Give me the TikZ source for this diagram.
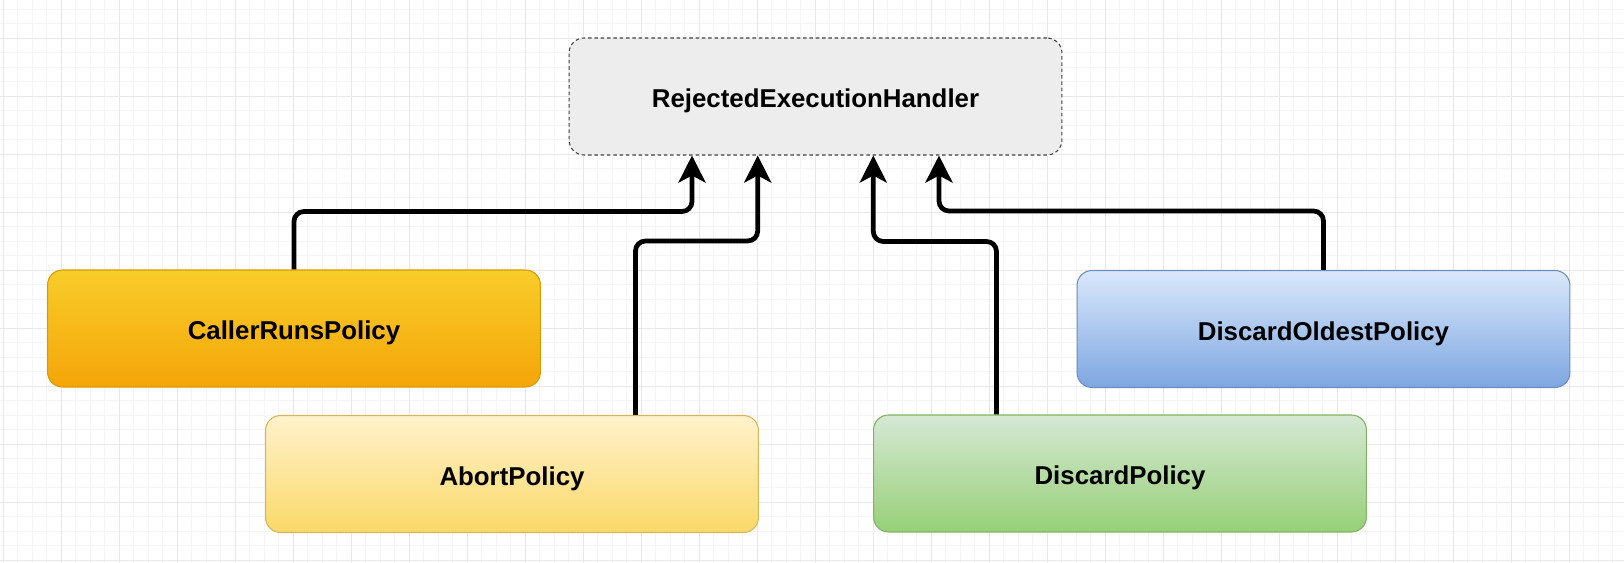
\documentclass[tikz,border=0pt]{standalone}
\usepackage{fontspec}
\setmainfont{Liberation Sans}
\usepackage{tikz}
\usetikzlibrary{arrows.meta,positioning,calc}

\definecolor{gridmajor}{RGB}{232,232,232}
\definecolor{gridminor}{RGB}{245,245,245}

\begin{document}
\begin{tikzpicture}[
  x=0.02cm, y=-0.02cm,
  box/.style={draw, rounded corners=0.3cm, line width=0.6pt, minimum width=9.86cm, minimum height=2.34cm, text height=0.46cm, text depth=0pt, font=\fontsize{14.7}{17}\selectfont\bfseries},
  handler/.style={box, draw=black!75, fill=black!7, dash pattern=on 2pt off 1.6pt},
  caller/.style={box, draw={rgb,255:red,215;green,155;blue,0}, top color={rgb,255:red,248;green,205;blue,42}, bottom color={rgb,255:red,245;green,165;blue,8}},
  abort/.style={box, draw={rgb,255:red,214;green,182;blue,86}, top color={rgb,255:red,255;green,242;blue,204}, bottom color={rgb,255:red,250;green,217;blue,104}},
  discard/.style={box, draw={rgb,255:red,130;green,179;blue,102}, top color={rgb,255:red,213;green,232;blue,212}, bottom color={rgb,255:red,151;green,208;blue,119}},
  oldest/.style={box, draw={rgb,255:red,108;green,142;blue,191}, top color={rgb,255:red,218;green,232;blue,252}, bottom color={rgb,255:red,126;green,166;blue,224}},
  arrow/.style={-{Stealth[length=0.54cm, width=0.54cm, inset=0.14cm]}, line width=0.095cm, rounded corners=0.2cm},
]
  \useasboundingbox (0,0) rectangle (1624,563);
  \fill[white] (0,0) rectangle (1624,563);

  % Grid
  \foreach \gx in {0,...,112}
    \draw[gridminor, line width=0.5pt] ({3.3+14.5*\gx},0) -- ++(0,563);
  \foreach \gy in {0,...,38}
    \draw[gridminor, line width=0.5pt] (0,{9.3+14.5*\gy}) -- ++(1624,0);
  \foreach \gx in {0,...,27}
    \draw[gridmajor, line width=0.6pt] ({3.3+58*\gx},0) -- ++(0,563);
  \foreach \gy in {0,...,9}
    \draw[gridmajor, line width=0.6pt] (0,{38.3+58*\gy}) -- ++(1624,0);

  % Interface
  \node[handler] (reh) at (815.5,96.5) {RejectedExecutionHandler};

  % Policies
  \node[caller] (crp) at (294,328.5) {CallerRunsPolicy};
  \node[abort] (ap) at (512,474) {AbortPolicy};
  \node[discard] (dp) at (1120,473.5) {DiscardPolicy};
  \node[oldest] (dop) at (1323.5,329) {DiscardOldestPolicy};

  % Arrow ends on the interface
  \coordinate (t1) at ($(reh.south west)!0.25!(reh.south east)$);
  \coordinate (t2) at ($(reh.south west)!0.383!(reh.south east)$);
  \coordinate (t3) at ($(reh.south west)!0.617!(reh.south east)$);
  \coordinate (t4) at ($(reh.south west)!0.75!(reh.south east)$);

  % Arrows
  \draw[arrow] (crp.north) -- ++(0,-58) -| (t1);
  \draw[arrow] ($(ap.north west)!0.75!(ap.north east)$) -- ++(0,-174) -| (t2);
  \draw[arrow] ($(dp.north west)!0.25!(dp.north east)$) -- ++(0,-173) -| (t3);
  \draw[arrow] (dop.north) -- ++(0,-59) -| (t4);

\end{tikzpicture}
\end{document}
